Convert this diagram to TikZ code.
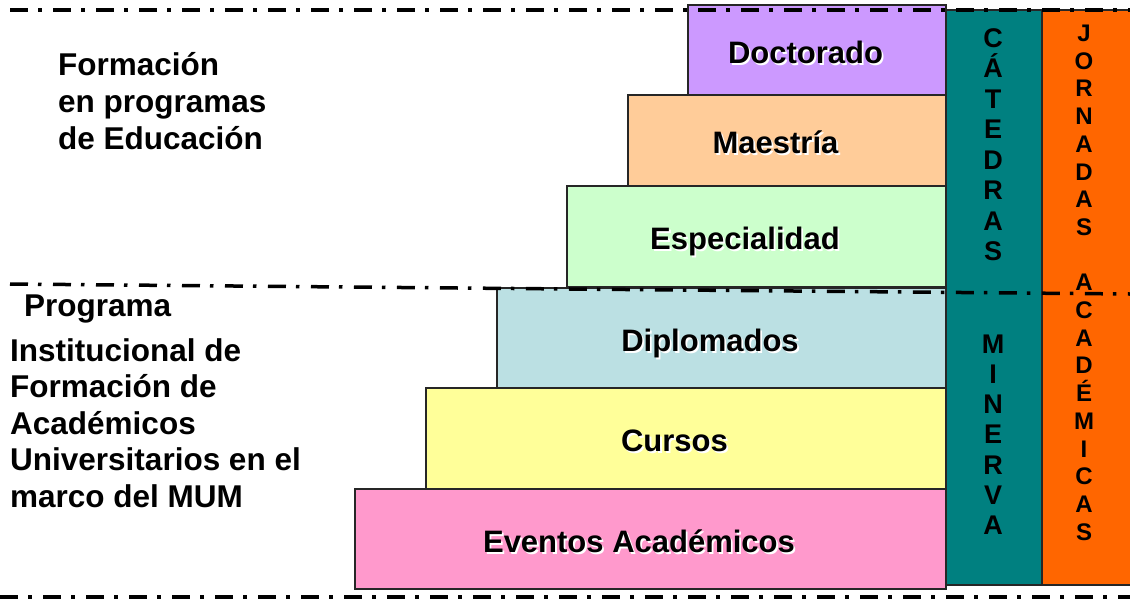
\documentclass[tikz,border=0pt]{standalone}
\usepackage{fontspec}
\setmainfont{Liberation Sans}
\usetikzlibrary{calc}
\definecolor{cDoc}{HTML}{CC99FF}
\definecolor{cMae}{HTML}{FFCC99}
\definecolor{cEsp}{HTML}{CCFFCC}
\definecolor{cDip}{HTML}{BBE0E3}
\definecolor{cCur}{HTML}{FFFF99}
\definecolor{cEve}{HTML}{FF99CC}
\definecolor{cTeal}{HTML}{008080}
\definecolor{cOrange}{HTML}{FF6600}
\tikzset{
  lvl/.style={draw=black!85, line width=1.2pt, anchor=north west, inner sep=0pt, outer sep=0pt},
  lvltext/.style={font=\fontsize{31}{36}\selectfont\bfseries, anchor=base, inner sep=0pt},
  sidetext/.style={font=\fontsize{31.5}{36}\selectfont\bfseries, anchor=base west, inner sep=0pt},
  colbox/.style={draw=black!85, line width=1.5pt, anchor=north west, inner sep=0pt, outer sep=0pt},
  tealletter/.style={font=\fontsize{27}{30}\selectfont\bfseries, anchor=base, inner sep=0pt},
  orangeletter/.style={font=\fontsize{24}{28}\selectfont\bfseries, anchor=base, inner sep=0pt},
  sepline/.style={line width=3.5pt, dash pattern=on 18pt off 10pt on 3.5pt off 11.5pt}
}
\newcommand\shadowlabel[3]{%
  \node[lvltext, text=white] at ($(#2.center)+(-9.7,15.1)$) {#3};
  \node[lvltext] (#1) at ($(#2.center)+(-11.5,13.3)$) {#3};}
\begin{document}
\begin{tikzpicture}[x=1pt,y=-1pt]
\useasboundingbox (0,0) rectangle (1130,600);
\clip (0,0) rectangle (1130,600);
% level boxes
\node[lvl, fill=cDoc, minimum width=258, minimum height=90] (doc) at (688,5) {};
\node[lvl, fill=cMae, minimum width=318, minimum height=91] (mae) at (628,95) {};
\node[lvl, fill=cEsp, minimum width=379, minimum height=101] (esp) at (567,186) {};
\node[lvl, fill=cDip, minimum width=449, minimum height=101] (dip) at (497,288) {};
\node[lvl, fill=cCur, minimum width=520, minimum height=101] (cur) at (426,388) {};
\node[lvl, fill=cEve, minimum width=591, minimum height=100] (eve) at (355,489) {};
\shadowlabel{tdoc}{doc}{Doctorado}
\shadowlabel{tmae}{mae}{Maestría}
\shadowlabel{tesp}{esp}{Especialidad}
\shadowlabel{tdip}{dip}{Diplomados}
\shadowlabel{tcur}{cur}{Cursos}
\shadowlabel{teve}{eve}{Eventos Académicos}
% columns
\node[colbox, fill=cTeal, minimum width=96, minimum height=575] (catedras) at (946,10) {};
\node[colbox, fill=cOrange, minimum width=100, minimum height=575] (jornadas) at (1042,10) {};
% separator lines
\coordinate (t1) at (10,10); \coordinate (t2) at (1130,10);
\coordinate (m1) at (10,284); \coordinate (m2) at (1130,294);
\coordinate (b1) at (0,597); \coordinate (b2) at (1130,597);
\draw[sepline] (t1) -- (t2);
\draw[sepline] (m1) -- (m2);
\draw[sepline] (b1) -- (b2);
% column letters
\foreach \l [count=\i from 0] in {C,Á,T,E,D,R,A,S}
  \node[tealletter] (cat\i) at (993,47+30.5*\i) {\l};
\foreach \l [count=\i from 0] in {M,I,N,E,R,V,A}
  \node[tealletter] (min\i) at (993,353+30.3*\i) {\l};
\foreach \l [count=\i from 0] in {J,O,R,N,A,D,A,S}
  \node[orangeletter] (jor\i) at (1084,41.5+27.7*\i) {\l};
\foreach \l [count=\i from 0] in {A,C,A,D,É,M,I,C,A,S}
  \node[orangeletter] (aca\i) at (1084,290.8+27.7*\i) {\l};
% side texts
\node[sidetext] (f1) at (58,75) {Formación};
\node[sidetext] (f2) at (58,112) {en programas};
\node[sidetext] (f3) at (58,149) {de Educación};
\node[sidetext] (p1) at (24,316) {Programa};
\node[sidetext] (p2) at (10,361.5) {Institucional de};
\node[sidetext] (p3) at (10,397.5) {Formación de};
\node[sidetext] (p4) at (10,434) {Académicos};
\node[sidetext] (p5) at (10,470.5) {Universitarios en el};
\node[sidetext] (p6) at (10,507) {marco del MUM};
\end{tikzpicture}
\end{document}
